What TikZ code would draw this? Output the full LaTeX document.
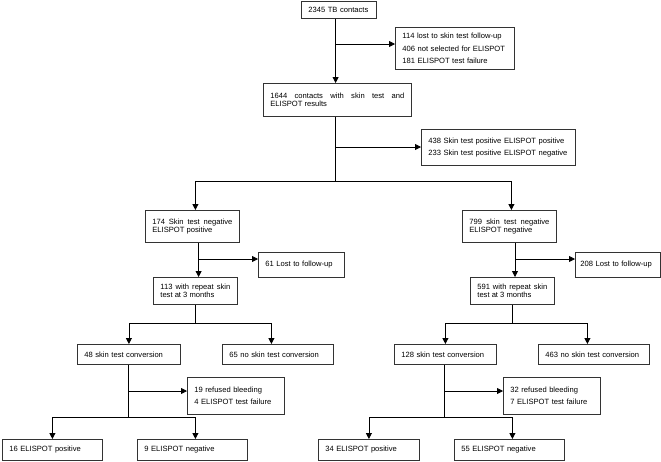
\documentclass[tikz,border=0pt]{standalone}
\usepackage{fontspec}
\setmainfont{Liberation Sans}
\usepackage{tikz}
\usetikzlibrary{arrows.meta}

\begin{document}
\begin{tikzpicture}[
		x=1pt, y=-1pt,                       % Pixelkoordinaten, y nach unten
		line width=0.8pt,
		>={Triangle[length=6pt, width=6pt]}, % Gefuellte Pfeilspitzen
		every node/.style={font=\fontsize{7.6}{8.7}\selectfont},
		box/.style={
			draw=black!80,
			anchor=north west,
			inner xsep=7pt,
			inner ysep=2pt,
			align=left},
		blocksatz/.style={box, align=justify, font=\fontsize{7.6}{8.7}\selectfont\sloppy},
		liste/.style={box, font=\fontsize{7.6}{12.6}\selectfont}
		]
		
		\useasboundingbox (0,0) rectangle (661,461);
		
		% 0. Alle Kontakte
		\node[box, text width=61pt, minimum height=17pt] (tb) at (301,1) {2345 TB contacts};
		\node[liste, text width=105pt, minimum height=42pt] (excl1) at (395,27) {
			114 lost to skin test follow-up\\
			406 not selected for ELISPOT\\
			181 ELISPOT test failure};
		
		% 1. Kontakte mit beiden Tests
		\node[blocksatz, text width=134pt, minimum height=33pt] (all) at (263,83) {
			1644 contacts with skin test and\linebreak ELISPOT results};
		\node[liste, text width=140pt, minimum height=36pt] (pos) at (421,129) {
			438 Skin test positive ELISPOT positive\\
			233 Skin test positive ELISPOT negative};
		
		% 2. Hauttest negativ
		\node[blocksatz, text width=80pt, minimum height=32pt] (nl) at (145,210) {
			174 Skin test negative\linebreak ELISPOT positive};
		\node[blocksatz, text width=80pt, minimum height=32pt] (nr) at (462,210) {
			799 skin test negative\linebreak ELISPOT negative};
		
		% 3. Verloren / Wiederholung
		\node[box, text width=72pt, minimum height=25pt] (lostl) at (258,252) {61 Lost to follow-up};
		\node[box, text width=75pt, inner xsep=5pt, minimum height=25pt] (lostr) at (575,252) {208 Lost to follow-up};
		\node[blocksatz, text width=70pt, minimum height=27pt] (repl) at (153,277) {
			113 with repeat skin\linebreak test at 3 months};
		\node[blocksatz, text width=70pt, minimum height=27pt] (repr) at (470,277) {
			591 with repeat skin\linebreak test at 3 months};
		
		% 4. Konversion
		\node[box, text width=89pt, minimum height=20pt] (convl) at (77,344) {48 skin test conversion};
		\node[box, text width=97pt, minimum height=20pt] (noconvl) at (222,344) {65 no skin test conversion};
		\node[box, text width=88pt, minimum height=20pt] (convr) at (394,344) {128 skin test conversion};
		\node[box, text width=97pt, minimum height=20pt] (noconvr) at (538,344) {463 no skin test conversion};
		
		% 5. Ausfaelle
		\node[liste, text width=83pt, minimum height=37pt] (excll) at (187,377) {
			19 refused bleeding\\
			4 ELISPOT test failure};
		\node[liste, text width=83pt, minimum height=37pt] (exclr) at (503,377) {
			32 refused bleeding\\
			7 ELISPOT test failure};
		
		% 6. ELISPOT-Ergebnis
		\node[box, text width=86pt, minimum height=21pt] (posl) at (2,439) {16 ELISPOT positive};
		\node[box, text width=96pt, minimum height=21pt] (negl) at (137,439) {9 ELISPOT negative};
		\node[box, text width=87pt, minimum height=21pt] (posr) at (318,439) {34 ELISPOT positive};
		\node[box, text width=96pt, minimum height=21pt] (negr) at (454,439) {55 ELISPOT negative};
		
		% Verzweigungspunkte
		\coordinate (j1) at (335.6,44);
		\coordinate (j2) at (335.6,147);
		\coordinate (j3) at (335.6,181);
		\coordinate (j4) at (198.6,259);
		\coordinate (j5) at (515,259);
		\coordinate (j6) at (195,323);
		\coordinate (j7) at (512,323);
		\coordinate (j8) at (128,391);
		\coordinate (j9) at (128,417);
		\coordinate (j10) at (444,391);
		\coordinate (j11) at (444,417);
		
		% Transitionen
		\draw[->] (tb.south -| j1) -- (all.north -| j1);
		\draw[->] (j1) -- (j1 -| excl1.west);
		\draw (all.south -| j2) -- (j3);
		\draw[->] (j2) -- (j2 -| pos.west);
		\draw[->] (j3) -| ([xshift=3pt]nl.north);
		\draw[->] (j3) -| ([xshift=2pt]nr.north);
		
		\draw[->] (nl.south -| j4) -- (repl.north -| j4);
		\draw[->] (j4) -- (j4 -| lostl.west);
		\draw[->] (nr.south -| j5) -- (repr.north -| j5);
		\draw[->] (j5) -- (j5 -| lostr.west);
		
		\draw (repl.south -| j6) -- (j6);
		\draw[->] (j6) -| (convl.north);
		\draw[->] (j6) -| ([xshift=-6.5pt]noconvl.north);
		\draw (repr.south -| j7) -- (j7);
		\draw[->] (j7) -| (convr.north);
		\draw[->] (j7) -| ([xshift=-6.5pt]noconvr.north);
		
		\draw (convl.south -| j8) -- (j9);
		\draw[->] (j8) -- (j8 -| excll.west);
		\draw[->] (j9) -| (posl.north);
		\draw[->] (j9) -| ([xshift=3pt]negl.north);
		\draw (convr.south -| j10) -- (j11);
		\draw[->] (j10) -- (j10 -| exclr.west);
		\draw[->] (j11) -| (posr.north);
		\draw[->] (j11) -| ([xshift=3pt]negr.north);
		
	\end{tikzpicture}
\end{document}
